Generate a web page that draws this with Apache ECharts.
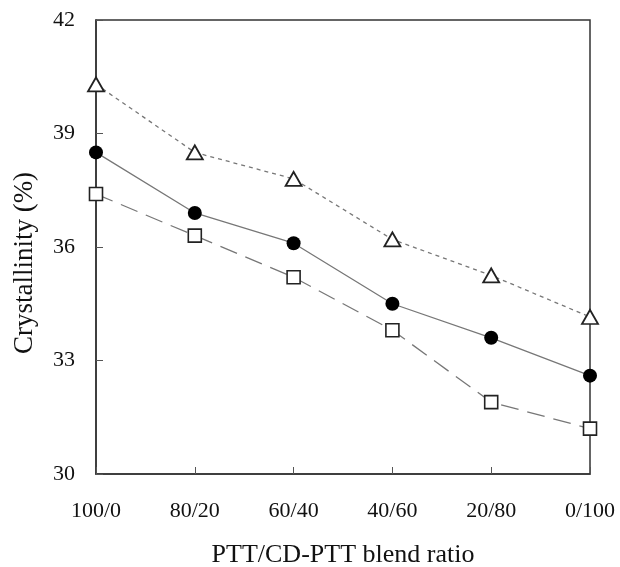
<!DOCTYPE html>
<html><head><meta charset="utf-8">
<script src="https://cdn.jsdelivr.net/npm/echarts@6/dist/echarts.min.js"></script>
<style>html,body{margin:0;padding:0;background:#fff}#c{width:620px;height:567px}</style>
</head><body><div id="c"></div>
<script>
const categories = ['100/0','80/20','60/40','40/60','20/80','0/100'];
const triangleSeries = [40.3, 38.5, 37.8, 36.2, 35.25, 34.15];
const circleSeries = [38.5, 36.9, 36.1, 34.5, 33.6, 32.6];
const squareSeries = [37.4, 36.3, 35.2, 33.8, 31.9, 31.2];
const yTicks = [30, 33, 36, 39, 42];

const font = 'Liberation Serif';
const chart = echarts.init(document.getElementById('c'));
chart.setOption({
  animation: false,
  backgroundColor: '#fff',
  grid: {left: 96, right: 30, top: 20, bottom: 93, containLabel: false, outerBoundsMode: 'none',
         show: true, borderColor: '#333', borderWidth: 1.5},
  xAxis: {
    type: 'category', data: categories, boundaryGap: false,
    axisLine: {lineStyle: {color: '#333', width: 1.5}},
    axisTick: {inside: true, length: 7, lineStyle: {color: '#555'}},
    axisLabel: {fontFamily: font, fontSize: 22, color: '#111', margin: 26},
    name: 'PTT/CD-PTT blend ratio', nameLocation: 'middle', nameGap: 68,
    nameTextStyle: {fontFamily: font, fontSize: 26, color: '#111'},
    splitLine: {show: false}
  },
  yAxis: {
    type: 'value', min: yTicks[0], max: yTicks[yTicks.length-1], interval: 3,
    axisLine: {show: true, lineStyle: {color: '#333', width: 1.5}},
    axisTick: {show: true, inside: true, length: 7, lineStyle: {color: '#555'}},
    axisLabel: {fontFamily: font, fontSize: 22, color: '#111', margin: 21},
    name: 'Crystallinity (%)', nameLocation: 'middle', nameGap: 58,
    nameTextStyle: {fontFamily: font, fontSize: 27, color: '#111', padding: [0, 32, 0, 0]},
    splitLine: {show: false}
  },
  series: [
    {type: 'line', data: triangleSeries, symbol: 'triangle', symbolSize: [16, 14],
     lineStyle: {color: '#777', width: 1.3, type: [4, 4]},
     itemStyle: {color: '#fff', borderColor: '#222', borderWidth: 1.8}, z: 3},
    {type: 'line', data: circleSeries, symbol: 'circle', symbolSize: 14,
     lineStyle: {color: '#777', width: 1.3, type: 'solid'},
     itemStyle: {color: '#000', borderColor: '#000', borderWidth: 0}, z: 3},
    {type: 'line', data: squareSeries, symbol: 'rect', symbolSize: 13,
     lineStyle: {color: '#777', width: 1.3, type: [18, 9]},
     itemStyle: {color: '#fff', borderColor: '#222', borderWidth: 1.6}, z: 3}
  ]
});
</script></body></html>
